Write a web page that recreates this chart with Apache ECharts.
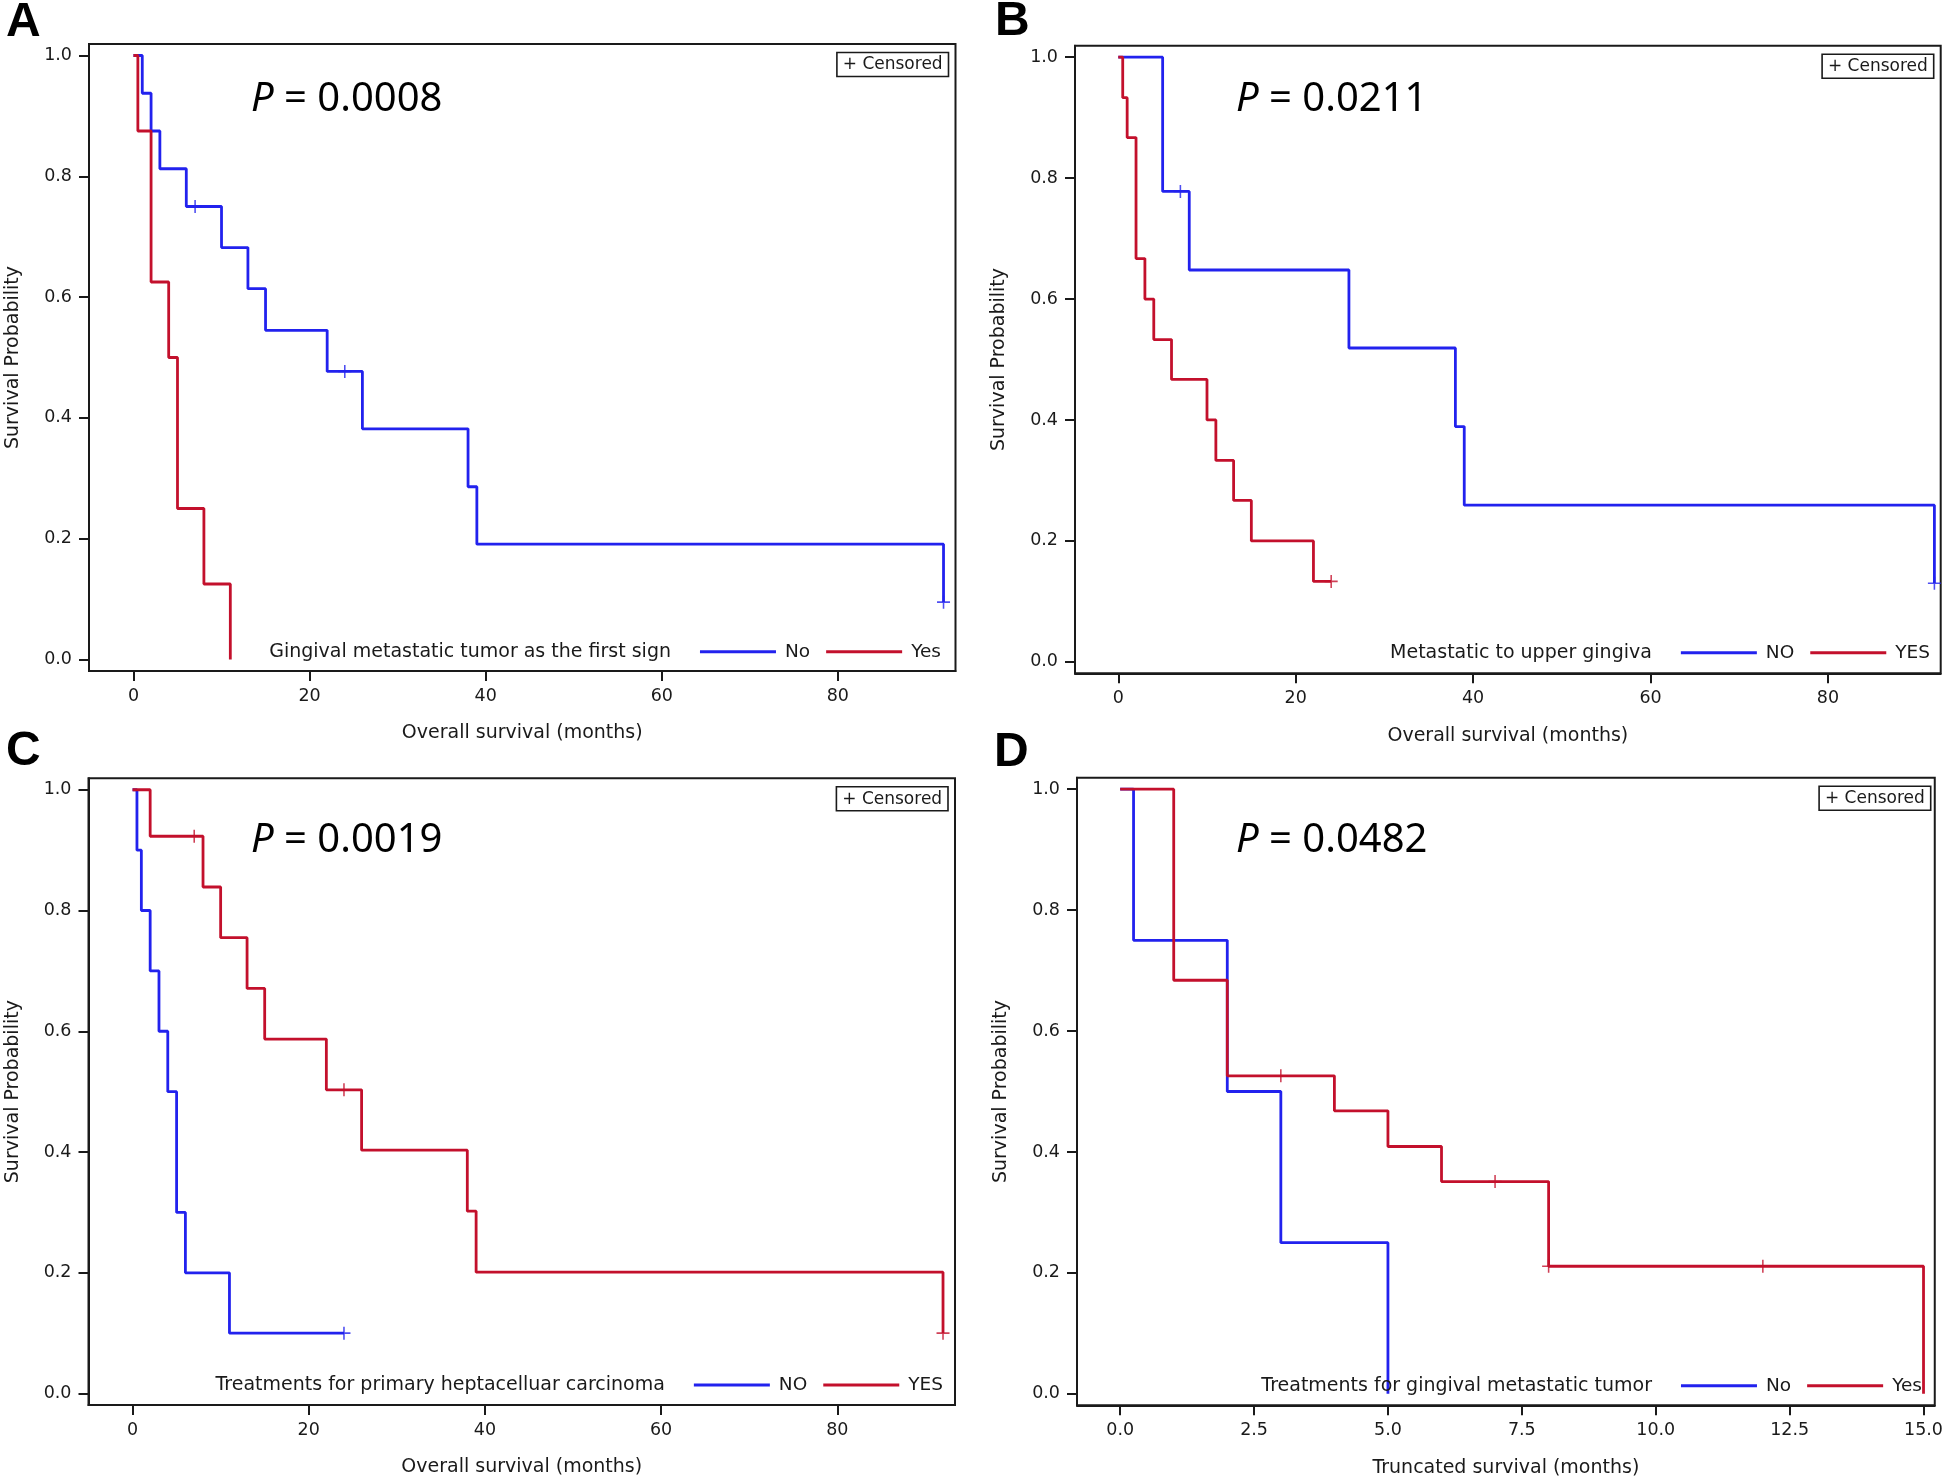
<!DOCTYPE html>
<html><head><meta charset="utf-8">
<script src="https://cdn.jsdelivr.net/npm/echarts@6/dist/echarts.min.js"></script>
<style>html,body{margin:0;padding:0;background:#fff}#c{width:1946px;height:1482px}</style>
</head><body><div id="c"></div>
<script>
// ---------- DATA ----------
// Panel A: Gingival metastatic tumor as the first sign
const aNoTime = [0, 1, 2, 3, 6, 10, 13, 15, 22, 26, 38, 39, 92];
const aNoSurv = [1, 0.9375, 0.875, 0.8125, 0.75, 0.682, 0.614, 0.545, 0.477, 0.382, 0.286, 0.191, 0.095];
const aNoCensorTime = [7, 24, 92];
const aNoCensorSurv = [0.75, 0.477, 0.095];
const aYesTime = [0, 0.5, 2, 4, 5, 8, 11];
const aYesSurv = [1, 0.875, 0.625, 0.5, 0.25, 0.125, 0];

// Panel B: Metastatic to upper gingiva
const bNoTime = [0, 5, 8, 26, 38, 39, 92];
const bNoSurv = [1, 0.778, 0.648, 0.519, 0.389, 0.259, 0.13];
const bNoCensorTime = [7, 92];
const bNoCensorSurv = [0.778, 0.13];
const bYesTime = [0, 0.5, 1, 2, 3, 4, 6, 10, 11, 13, 15, 22, 24];
const bYesSurv = [1, 0.933, 0.867, 0.667, 0.6, 0.533, 0.467, 0.4, 0.333, 0.267, 0.2, 0.133, 0.133];
const bYesCensorTime = [24];
const bYesCensorSurv = [0.133];

// Panel C: Treatments for primary heptacelluar carcinoma
const cNoTime = [0, 0.5, 1, 2, 3, 4, 5, 6, 11, 24];
const cNoSurv = [1, 0.9, 0.8, 0.7, 0.6, 0.5, 0.3, 0.2, 0.1, 0.1];
const cNoCensorTime = [24];
const cNoCensorSurv = [0.1];
const cYesTime = [0, 2, 8, 10, 13, 15, 22, 26, 38, 39, 92];
const cYesSurv = [1, 0.923, 0.839, 0.755, 0.671, 0.587, 0.503, 0.403, 0.302, 0.201, 0.1];
const cYesCensorTime = [7, 24, 92];
const cYesCensorSurv = [0.923, 0.503, 0.1];

// Panel D: Treatments for gingival metastatic tumor
const dNoTime = [0, 0.25, 2, 3, 5];
const dNoSurv = [1, 0.75, 0.5, 0.25, 0];
const dYesTime = [0, 1, 2, 4, 5, 6, 8, 15];
const dYesSurv = [1, 0.684, 0.526, 0.468, 0.409, 0.351, 0.211, 0];
const dYesCensorTime = [3, 7, 8, 12];
const dYesCensorSurv = [0.526, 0.351, 0.211, 0.211];

// Text
const panelLetters = ['A', 'B', 'C', 'D'];
const pValues = ['0.0008', '0.0211', '0.0019', '0.0482'];
const legendTitles = ['Gingival metastatic tumor as the first sign', 'Metastatic to upper gingiva',
  'Treatments for primary heptacelluar carcinoma', 'Treatments for gingival metastatic tumor'];
const groupNames = [['No', 'Yes'], ['NO', 'YES'], ['NO', 'YES'], ['No', 'Yes']];
const xTitles = ['Overall survival (months)', 'Overall survival (months)', 'Overall survival (months)', 'Truncated survival (months)'];
const yTitle = 'Survival Probability';
const monthTicks = [0, 20, 40, 60, 80];
const truncTicks = [0, 2.5, 5, 7.5, 10, 12.5, 15];
const probTicks = [0, 0.2, 0.4, 0.6, 0.8, 1.0];

// ---------- LAYOUT ----------
const BLUE = '#2222ee', RED = '#c3102c', INK = '#1a1a1a';
const FONT = 'DejaVu Sans';
const W = 1946;
const grids = [
  {left: 89, right: 955.5, top: 44, bottom: 671, xmin: -5.05, xmax: 93.36},
  {left: 1075, right: 1940.7, top: 45.7, bottom: 673.3, xmin: -4.88, xmax: 92.71},
  {left: 88.5, right: 955, top: 778.3, bottom: 1405, xmin: -5.0, xmax: 93.36},
  {left: 1077, right: 1937.7, top: 777.7, bottom: 1405.3, xmin: -0.806, xmax: 15.21}
];
const legendY = [651.7, 652.7, 1385, 1385.7];
const legendRightEnd = [941, 1930, 943, 1922];
const letterPos = [[6, 23], [995, 22], [6, 752], [994, 753]];
const pPos = [[251, 99.5], [1236, 99.5], [251, 840.5], [1236, 840.5]];

const pairs = (t, s) => t.map((v, i) => [v, s[i]]);
const plusPath = 'path://M-0.12,-1L0.12,-1L0.12,-0.12L1,-0.12L1,0.12L0.12,0.12L0.12,1L-0.12,1L-0.12,0.12L-1,0.12L-1,-0.12L-0.12,-0.12Z';

const curves = [
  [[aNoTime, aNoSurv, aNoCensorTime, aNoCensorSurv], [aYesTime, aYesSurv, [], []]],
  [[bNoTime, bNoSurv, bNoCensorTime, bNoCensorSurv], [bYesTime, bYesSurv, bYesCensorTime, bYesCensorSurv]],
  [[cNoTime, cNoSurv, cNoCensorTime, cNoCensorSurv], [cYesTime, cYesSurv, cYesCensorTime, cYesCensorSurv]],
  [[dNoTime, dNoSurv, [], []], [dYesTime, dYesSurv, dYesCensorTime, dYesCensorSurv]]
];

const option = {
  animation: false,
  backgroundColor: '#fff',
  textStyle: {fontFamily: FONT},
  grid: [], xAxis: [], yAxis: [], series: [], legend: [], graphic: []
};

grids.forEach((g, i) => {
  option.grid.push({
    left: g.left, top: g.top, width: g.right - g.left, height: g.bottom - g.top,
    show: true, borderColor: INK, borderWidth: 2, backgroundColor: 'transparent'
  });
  const ticks = i === 3 ? truncTicks : monthTicks;
  option.xAxis.push({
    type: 'value', gridIndex: i, min: g.xmin, max: g.xmax,
    name: xTitles[i], nameLocation: 'middle', nameGap: 53,
    nameTextStyle: {fontSize: 19, color: INK, fontFamily: FONT},
    axisLine: {show: true, onZero: false, lineStyle: {color: INK, width: 2}},
    axisTick: {show: true, inside: false, length: 10, lineStyle: {color: INK, width: 2}, customValues: ticks},
    axisLabel: {show: true, margin: 16, fontSize: 17.5, color: INK, fontFamily: FONT, customValues: ticks,
      formatter: v => i === 3 ? Number(v).toFixed(1) : String(Math.round(v))},
    splitLine: {show: false}
  });
  option.yAxis.push({
    type: 'value', gridIndex: i, min: -0.019, max: 1.019,
    name: yTitle, nameLocation: 'middle', nameGap: 66,
    nameTextStyle: {fontSize: 19, color: INK, fontFamily: FONT},
    axisLine: {show: true, onZero: false, lineStyle: {color: INK, width: 2}},
    axisTick: {show: true, inside: false, length: 10, lineStyle: {color: INK, width: 2}, customValues: probTicks},
    axisLabel: {show: true, margin: 17, fontSize: 17.5, color: INK, fontFamily: FONT, customValues: probTicks,
      formatter: v => Number(v).toFixed(1)},
    splitLine: {show: false}
  });
  const colors = [BLUE, RED];
  curves[i].forEach((c, k) => {
    option.series.push({
      type: 'line', name: groupNames[i][k], xAxisIndex: i, yAxisIndex: i,
      step: 'end', showSymbol: false, symbol: 'none', color: colors[k],
      lineStyle: {color: colors[k], width: 2.8}, z: 3 + k,
      data: pairs(c[0], c[1])
    });
    if (c[2].length) {
      option.series.push({
        type: 'scatter', name: panelLetters[i] + '-' + groupNames[i][k] + '-censored',
        xAxisIndex: i, yAxisIndex: i, symbol: plusPath, symbolSize: 13,
        itemStyle: {color: colors[k]}, z: 5 + k, silent: true,
        data: pairs(c[2], c[3])
      });
    }
  });
  option.legend.push({
    data: groupNames[i].map(n => ({name: n, icon: 'rect'})),
    right: W - legendRightEnd[i], top: legendY[i] - 10, orient: 'horizontal',
    itemWidth: 76, itemHeight: 3, itemGap: 16, padding: 0, selectedMode: false,
    textStyle: {fontSize: 18.5, color: INK, fontFamily: FONT, lineHeight: 20, padding: [0, 0, 0, 4]}
  });
  // legend title
  option.graphic.push({
    type: 'text', x: legendRightEnd[i], y: legendY[i], z: 10,
    style: {text: legendTitles[i], fontSize: 19, fontFamily: FONT, fill: INK,
      textAlign: 'right', textVerticalAlign: 'middle'},
    id: 'lt' + i
  });
  // "+ Censored" box
  const bx = g.right - 7 - 111.6, by = g.top + 8.5;
  option.graphic.push({
    type: 'rect', shape: {x: bx, y: by, width: 111.6, height: 24}, z: 10,
    style: {fill: '#fff', stroke: INK, lineWidth: 1.6}
  });
  option.graphic.push({
    type: 'text', x: bx + 55.8, y: by + 12.5, z: 11,
    style: {text: '+ Censored', fontSize: 17, fontFamily: FONT, fill: INK, textAlign: 'center', textVerticalAlign: 'middle'}
  });
  // Panel letter
  option.graphic.push({
    type: 'text', x: letterPos[i][0], y: letterPos[i][1], z: 10,
    style: {text: panelLetters[i], fontSize: 48, fontWeight: 'bold', fontFamily: 'Liberation Sans', fill: '#000',
      textAlign: 'left', textVerticalAlign: 'middle'}
  });
  // P value
  option.graphic.push({
    type: 'text', x: pPos[i][0], y: pPos[i][1], z: 10,
    style: {text: '{i|P} = ' + pValues[i], fill: '#000', textAlign: 'left', textVerticalAlign: 'middle',
      fontSize: 40, fontFamily: 'Noto Sans',
      rich: {i: {fontStyle: 'italic', fontSize: 40, fontFamily: 'Noto Sans', fill: '#000'}}}
  });
});

const chart = echarts.init(document.getElementById('c'), null, {renderer: 'canvas'});
chart.setOption(option);

// place legend titles just left of each legend (gap 29px to first legend line)
const gfx = [];
chart.getModel().eachComponent('legend', (lm, idx) => {
  const view = chart.getViewOfComponentModel(lm);
  const rect = view.group.getBoundingRect();
  gfx.push({id: 'lt' + idx, x: view.group.x + rect.x - 29});
});
chart.setOption({graphic: gfx});
</script></body></html>
